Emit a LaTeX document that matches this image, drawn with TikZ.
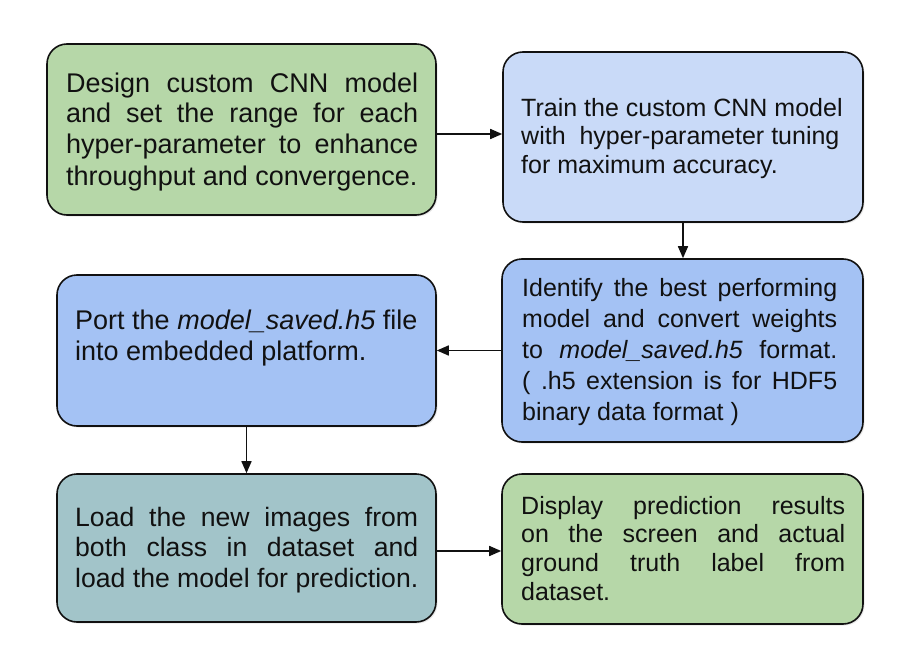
\documentclass[tikz,border=0pt]{standalone}
\usepackage{fontspec}
\setmainfont{Liberation Sans}
\usetikzlibrary{arrows.meta,shadows}
\definecolor{gA}{HTML}{B6D7A8}
\definecolor{bA}{HTML}{C9DAF8}
\definecolor{bB}{HTML}{A4C2F4}
\definecolor{cA}{HTML}{A2C4C9}
\definecolor{ink}{HTML}{111111}
\newcommand\jl[2]{\makebox[#1][s]{\spaceskip=0.278em plus 10em\relax #2}}
\begin{document}
\begin{tikzpicture}[x=1pt,y=-1pt,
  box/.style={draw=ink, line width=1.6pt, rounded corners=20pt, inner sep=0pt,
    drop shadow={shadow xshift=1.5pt, shadow yshift=-1.5pt, opacity=0.18}},
  txt/.style={anchor=base west, inner sep=0pt, align=left, text=ink,
    execute at begin node={\spaceskip=0.278em\relax}},
  arr/.style={draw=ink, line width=1.6pt, -{Triangle[length=12pt,width=10pt]}}]
\fill[white] (0,0) rectangle (898,645);
\useasboundingbox (0,0) rectangle (898,645);
% boxes
\node[box, fill=gA, minimum width=389pt, minimum height=171pt] (b1) at (241.5,129.5) {};
\node[box, fill=bA, minimum width=360pt, minimum height=170pt] (b2) at (683,137) {};
\node[box, fill=bB, minimum width=379pt, minimum height=151pt] (b3) at (246.5,350.5) {};
\node[box, fill=bB, minimum width=361pt, minimum height=183pt] (b4) at (682.5,350.5) {};
\node[box, fill=cA, minimum width=379pt, minimum height=148pt] (b5) at (246.5,548) {};
\node[box, fill=gA, minimum width=361pt, minimum height=150pt] (b6) at (682.5,549) {};
% texts
\node[txt, text width=360pt, font=\fontsize{27}{31}\selectfont] (t1) at (66,92)
  {\jl{352pt}{Design custom CNN model}\\\jl{352pt}{and set the range for each}\\\jl{352pt}{hyper-parameter to enhance}\\throughput and convergence.};
\node[txt, text width=330pt, font=\fontsize{25}{28.75}\selectfont] (t2) at (521,116)
  {Train the custom CNN model\\with~ hyper-parameter tuning\\for maximum accuracy.};
\node[txt, text width=360pt, font=\fontsize{27}{31}\selectfont] (t3) at (75,329)
  {Port the \textit{model\_saved.h5} file\\into embedded platform.};
\node[txt, text width=330pt, font=\fontsize{25}{31}\selectfont] (t4) at (522,296)
  {\jl{315pt}{Identify the best performing}\\\jl{315pt}{model and convert weights}\\\jl{315pt}{to \textit{model\_saved.h5} format.}\\\jl{315pt}{( .h5 extension is for HDF5}\\binary data format )};
\node[txt, text width=360pt, font=\fontsize{26.6}{30.6}\selectfont] (t5) at (75,526)
  {\jl{343pt}{Load the new images from}\\\jl{343pt}{both class in dataset and}\\load the model for prediction.};
\node[txt, text width=330pt, font=\fontsize{25}{28.75}\selectfont] (t6) at (521,514)
  {\jl{324pt}{Display prediction results}\\\jl{324pt}{on the screen and actual}\\\jl{324pt}{ground truth label from}\\dataset.};
% connectors
\draw[arr] ([yshift=-4.5pt]b1.east) -- ([yshift=-4.5pt]b1.east -| b2.west);
\draw[arr] (b2.south) -- (b2.south |- b4.north);
\draw[arr] (b4.west) -- (b4.west -| b3.east);
\draw[arr] (b3.south) -- (b3.south |- b5.north);
\draw[arr] ([yshift=-3pt]b5.east) -- ([yshift=-3pt]b5.east -| b6.west);
\end{tikzpicture}
\end{document}
